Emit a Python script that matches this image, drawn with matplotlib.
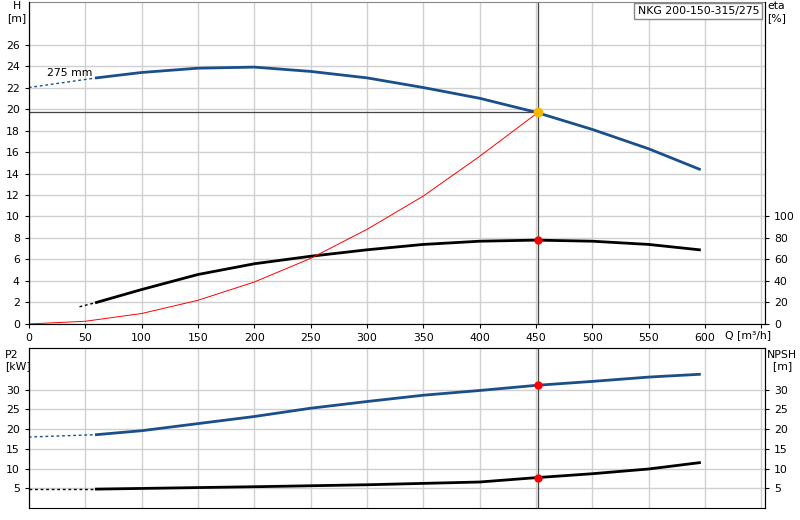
import matplotlib
matplotlib.use("Agg")
import matplotlib.pyplot as plt

q_h = [60, 100, 150, 200, 250, 300, 350, 400, 450, 500, 550, 595]
h_vals = [22.9, 23.4, 23.8, 23.9, 23.5, 22.9, 22.0, 21.0, 19.7, 18.1, 16.3, 14.4]
h_ext_q = [0, 60]
h_ext = [22.0, 22.9]
eta_q = [60, 100, 150, 200, 250, 300, 350, 400, 450, 500, 550, 595]
eta_vals = [20, 32, 46, 56, 63, 69, 74, 77, 78, 77, 74, 69]
eta_ext_q = [45, 60]
eta_ext = [16, 20]
sys_q = [0, 50, 100, 150, 200, 250, 300, 350, 400, 452]
sys_h = [0, 0.25, 0.97, 2.2, 3.9, 6.1, 8.8, 11.9, 15.6, 19.7]
p2_q = [60, 100, 150, 200, 250, 300, 350, 400, 450, 500, 550, 595]
p2_vals = [18.6, 19.6, 21.4, 23.2, 25.3, 27.0, 28.6, 29.8, 31.1, 32.1, 33.2, 33.9]
p2_ext_q = [0, 60]
p2_ext = [18.0, 18.6]
npsh_q = [60, 200, 300, 400, 450, 500, 550, 595]
npsh_vals = [4.8, 5.4, 5.9, 6.6, 7.7, 8.7, 9.9, 11.5]
npsh_ext_q = [0, 60]
npsh_ext = [4.8, 4.8]
op_q, op_h, op_eta, op_p2, op_npsh = 452, 19.7, 78, 31.1, 7.7
title = "NKG 200-150-315/275"

BLUE = "#1a4f8a"
FS = 7.8
plt.rcParams['font.family'] = ['DejaVu Sans']
fig = plt.figure(figsize=(8, 5.2), dpi=100)
ax = fig.add_axes([0.036, 0.377, 0.92, 0.62])
bx = fig.add_axes([0.036, 0.023, 0.92, 0.308])
XMAX = 653
for a in (ax, bx):
    a.set_xlim(0, XMAX)
    a.set_xticks(range(0, 651, 50))
    a.grid(True, color="#d0d0d0", lw=1)
    a.set_axisbelow(True)
    a.spines["top"].set_color("#888888")
    a.tick_params(labelsize=FS, length=3)
ax.spines["bottom"].set_color("#888888")
bx.spines["bottom"].set_visible(False)

ax.set_ylim(0, 30)
ax.set_yticks(range(0, 27, 2))
ax.set_xticklabels([str(v) if 0 <= v <= 600 else "" for v in range(0, 651, 50)])
ax.plot(h_ext_q, h_ext, color=BLUE, lw=1, ls=(0, (2, 2)))
ax.plot(q_h, h_vals, color=BLUE, lw=2)
ax.plot(eta_ext_q, [e / 10 for e in eta_ext], color="black", lw=1, ls=(0, (2, 2)))
ax.plot(eta_q, [e / 10 for e in eta_vals], color="black", lw=2)
ax.plot(sys_q, sys_h, color="red", lw=0.7)
ax.plot([0, op_q], [op_h, op_h], color="#444444", lw=0.9)
ax.axvline(op_q, color="#444444", lw=0.9)
ax.plot(op_q, op_h, "o", color="#f5b800", ms=6, zorder=5)
ax.plot(op_q, op_eta / 10, "o", color="red", ms=5, zorder=5)
ax.text(16, 23.1, "275 mm", fontsize=FS)
ax.text(XMAX - 5, 29.6, title, fontsize=FS, ha="right", va="top",
        bbox=dict(boxstyle="square,pad=0.3", fc="white", ec="#888888"))
ax.text(618, -1.0, "Q [m³/h]", fontsize=FS, va="center", ha="left")
fig.text(0.021, 0.998, "H\n[m]", fontsize=FS, ha="center", va="top")
ax2 = ax.twinx()
ax2.set_ylim(0, 300)
ax2.set_yticks(range(0, 101, 20))
ax2.tick_params(labelsize=FS, length=3)
ax2.spines["top"].set_visible(False)
fig.text(0.959, 0.998, "eta\n[%]", fontsize=FS, va="top")

bx.set_ylim(0, 40.6)
bx.set_yticks(range(5, 31, 5))
bx.set_xticklabels([])
bx.tick_params(axis="x", length=0)
bx.plot(p2_ext_q, p2_ext, color=BLUE, lw=1, ls=(0, (2, 2)))
bx.plot(p2_q, p2_vals, color=BLUE, lw=2)
bx.plot(npsh_ext_q, npsh_ext, color="black", lw=1, ls=(0, (2, 2)))
bx.plot(npsh_q, npsh_vals, color="black", lw=2)
bx.axvline(op_q, color="#444444", lw=0.9)
bx.plot(op_q, op_p2, "o", color="red", ms=5, zorder=5)
bx.plot(op_q, op_npsh, "o", color="red", ms=5, zorder=5)
fig.text(0.006, 0.327, "P2\n[kW]", fontsize=FS, va="top")
bx2 = bx.twinx()
bx2.set_ylim(0, 40.6)
bx2.set_yticks(range(5, 31, 5))
bx2.tick_params(labelsize=FS, length=3)
fig.text(0.958, 0.327, "NPSH\n  [m]", fontsize=FS, va="top")

fig.savefig("out.png", dpi=100)
